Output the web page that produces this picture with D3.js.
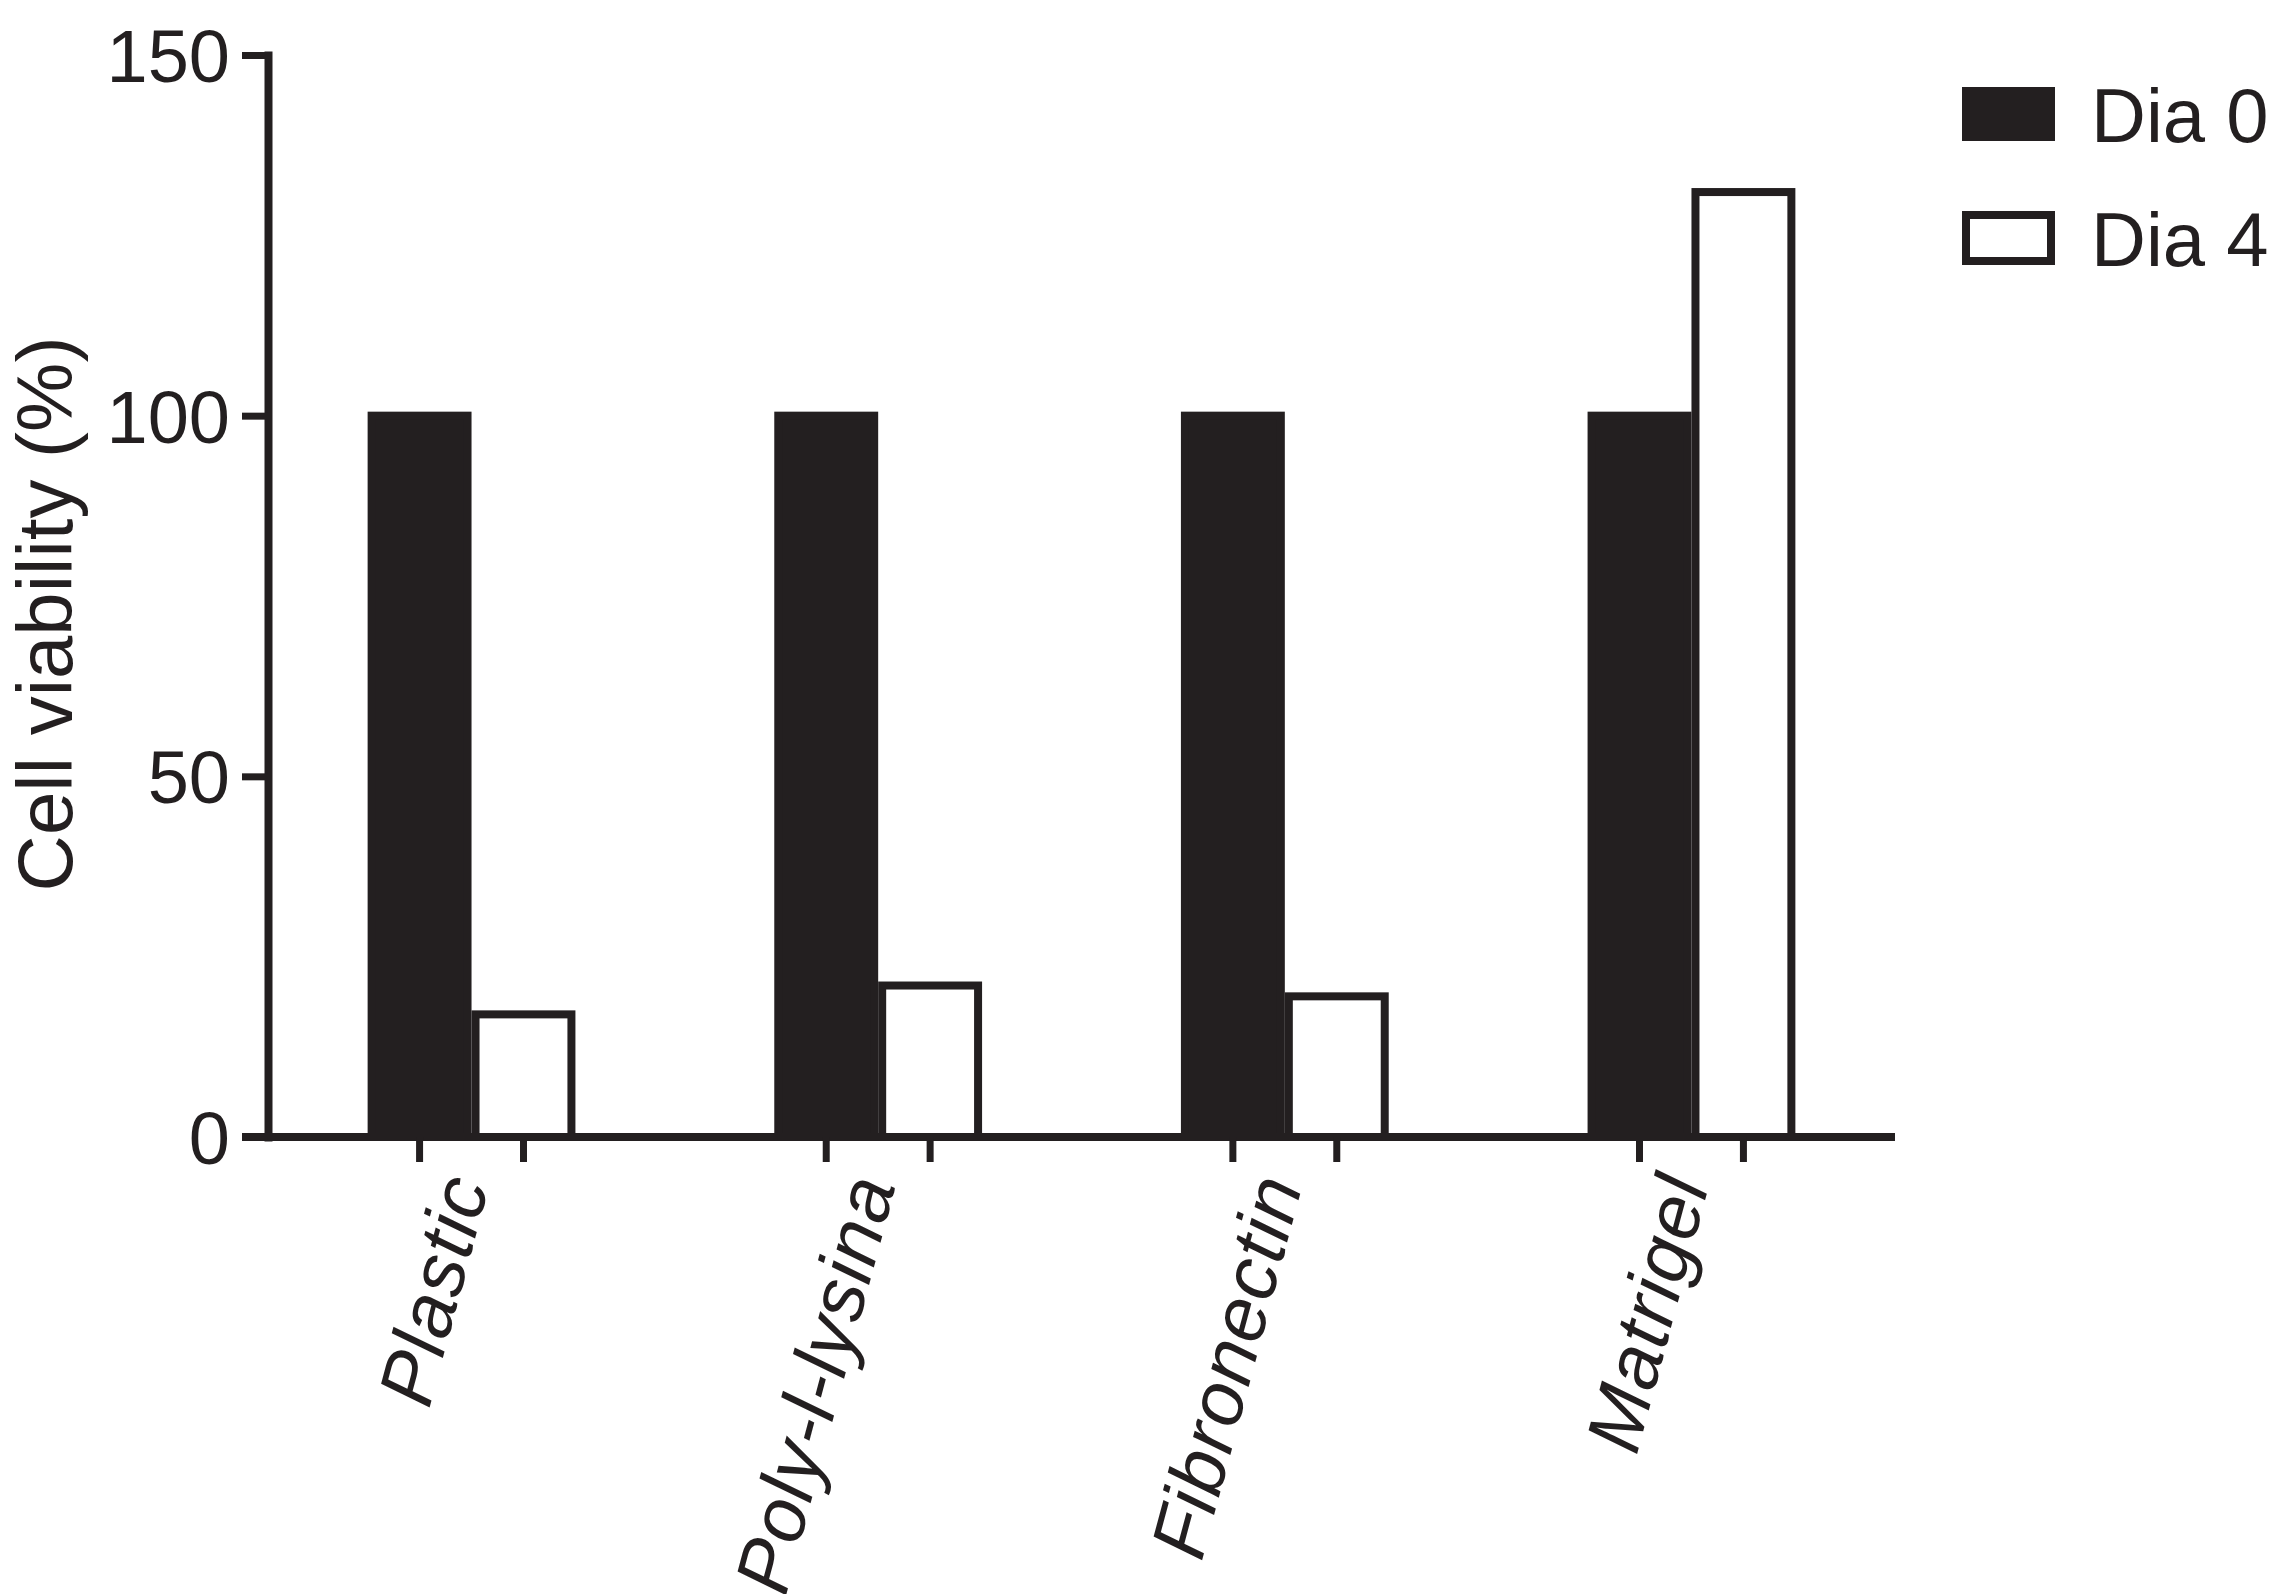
<!DOCTYPE html>
<html>
<head>
<meta charset="utf-8">
<script src="https://cdn.jsdelivr.net/npm/d3@7"></script>
<style>
  html, body { margin: 0; padding: 0; background: #ffffff; }
  svg { display: block; }
</style>
</head>
<body>
<div id="chart"></div>
<script>
// ---- data ----
const categories = ["Plastic", "Poly-l-lysina", "Fibronectin", "Matrigel"];
const seriesNames = ["Dia 0", "Dia 4"];
const dia0Values = [100, 100, 100, 100];
const dia4Values = [17, 21, 19.5, 131];
const yTickValues = [0, 50, 100, 150];
const yAxisLabel = "Cell viability (%)";

const FONT = '"Liberation Sans", Arial, sans-serif';
const W = 2277, H = 1594;
const INK = "#231f20";
const SW = 8;

const yAxisX = 268, xAxisY = 1137, yTop = 55, xRight = 1895, tickLen = 26;

const svg = d3.select("#chart").append("svg")
  .attr("width", W).attr("height", H)
  .style("font-family", FONT);

const x0 = d3.scaleBand().domain(categories).range([yAxisX, xRight])
  .paddingInner(0.489).paddingOuter(0.245);
const x1 = d3.scaleBand().domain(seriesNames).range([0, x0.bandwidth()]).padding(0);
const y = d3.scaleLinear().domain([0, 150]).range([xAxisY, yTop]);

const rows = categories.map((c, i) => ({ cat: c, values: [dia0Values[i], dia4Values[i]] }));
const fills = { "Dia 0": INK, "Dia 4": "#ffffff" };

// bars
svg.append("g").selectAll("g.grp").data(rows).join("g")
  .attr("class", "grp")
  .attr("transform", d => `translate(${x0(d.cat)},0)`)
  .selectAll("rect").data(d => d.values.map((v, k) => ({ s: seriesNames[k], v })))
  .join("rect")
  .attr("x", d => x1(d.s) + SW / 2)
  .attr("width", x1.bandwidth() - SW)
  .attr("y", d => y(d.v))
  .attr("height", d => y(0) - y(d.v))
  .attr("fill", d => fills[d.s])
  .attr("stroke", INK)
  .attr("stroke-width", SW);

// y axis
const yAxis = svg.append("g")
  .attr("transform", `translate(${yAxisX},0)`)
  .call(d3.axisLeft(y).tickValues(yTickValues).tickSize(tickLen).tickSizeOuter(0).tickPadding(12));
yAxis.select(".domain").attr("stroke", INK).attr("stroke-width", SW).attr("stroke-linecap", "square");
yAxis.selectAll(".tick line").attr("stroke", INK).attr("stroke-width", 7);
yAxis.selectAll(".tick text")
  .attr("fill", INK).style("font-size", "74px")
  .attr("dy", "0.36em");

// x axis line
svg.append("line")
  .attr("x1", yAxisX - tickLen).attr("x2", xRight)
  .attr("y1", y(0)).attr("y2", y(0))
  .attr("stroke", INK).attr("stroke-width", SW);

// x ticks at bar centres
const tickXs = [];
categories.forEach(c => seriesNames.forEach(s => tickXs.push(x0(c) + x1(s) + x1.bandwidth() / 2)));
svg.append("g").selectAll("line").data(tickXs).join("line")
  .attr("x1", d => d).attr("x2", d => d)
  .attr("y1", y(0)).attr("y2", y(0) + 25)
  .attr("stroke", INK).attr("stroke-width", 7);

// category labels
svg.append("g").selectAll("text").data(categories).join("text")
  .attr("transform", d => `translate(${x0(d) + x0.bandwidth() / 2 - 8},${y(0) + 40}) rotate(-75)`)
  .attr("text-anchor", "end")
  .attr("dy", "0.35em")
  .style("font-style", "italic")
  .style("font-size", "77px")
  .style("letter-spacing", "1px")
  .attr("fill", INK)
  .text(d => d);

// y axis title
svg.append("text")
  .attr("transform", `translate(72,614) rotate(-90)`)
  .attr("text-anchor", "middle")
  .style("font-size", "78px")
  .attr("fill", INK)
  .text(yAxisLabel);

// legend
const legend = svg.append("g").attr("transform", "translate(1966,91)");
const li = legend.selectAll("g").data(seriesNames).join("g")
  .attr("transform", (d, i) => `translate(0,${i * 124})`);
li.append("rect")
  .attr("x", 0).attr("y", 0).attr("width", 85).attr("height", 46)
  .attr("fill", d => fills[d]).attr("stroke", INK).attr("stroke-width", SW);
li.append("text")
  .attr("x", 125).attr("y", 51)
  .style("font-size", "76px")
  .attr("fill", INK)
  .text(d => d);
</script>
</body>
</html>
